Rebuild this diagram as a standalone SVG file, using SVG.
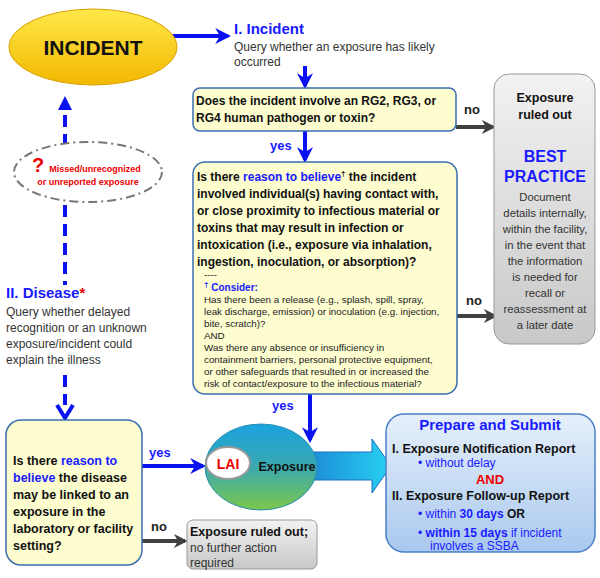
<svg xmlns="http://www.w3.org/2000/svg" width="600" height="578" viewBox="0 0 600 578">
<defs>
<linearGradient id="gy" x1="0" y1="0" x2="0" y2="1"><stop offset="0" stop-color="#ffe84a"/><stop offset="1" stop-color="#f2b800"/></linearGradient>
<linearGradient id="gex" x1="0" y1="0" x2="0" y2="1"><stop offset="0" stop-color="#1aa3e0"/><stop offset="0.5" stop-color="#3aa9b0"/><stop offset="1" stop-color="#7cc74a"/></linearGradient>
<linearGradient id="gbl" x1="0" y1="0" x2="0" y2="1"><stop offset="0" stop-color="#e6f0fb"/><stop offset="1" stop-color="#a9c8ee"/></linearGradient>
<linearGradient id="ggr" x1="0" y1="0" x2="0" y2="1"><stop offset="0" stop-color="#f2f2f2"/><stop offset="1" stop-color="#c8c8c8"/></linearGradient>
<linearGradient id="gar" x1="0" y1="0" x2="1" y2="0"><stop offset="0" stop-color="#1e8fd8"/><stop offset="1" stop-color="#27d2f2"/></linearGradient>
<marker id="ab" viewBox="0 0 10 10" refX="8" refY="5" markerWidth="4" markerHeight="4" orient="auto"><path d="M0,0L10,5L0,10L3,5z" fill="#0a12f0"/></marker>
<marker id="ag" viewBox="0 0 10 10" refX="8" refY="5" markerWidth="3.5" markerHeight="3.5" orient="auto"><path d="M0,0L10,5L0,10L3,5z" fill="#404040"/></marker>
<style>
text{font-family:"Liberation Sans",Arial,sans-serif}
.q{fill:#fdfdcf;stroke:#3a6db0;stroke-width:1.5}
.b{font-weight:bold}
.bl{fill:#1a1aff}
.t13{font-size:12.5px;font-weight:bold;fill:#111}
.t12{font-size:12px;font-weight:bold;fill:#111}
.s{font-size:9.8px;fill:#222}
.g12{font-size:12px;fill:#333}
.g11{font-size:11.3px;fill:#333}
.ab{stroke:#0a12f0;stroke-width:4;fill:none;marker-end:url(#ab)}
.ad{stroke:#0a12f0;stroke-width:4;fill:none;stroke-dasharray:12,7}
.ag{stroke:#404040;stroke-width:4;fill:none;marker-end:url(#ag)}
.lb{font-size:13px;font-weight:bold;fill:#1a1aff}
.lg{font-size:13px;font-weight:bold;fill:#222}
</style>
</defs>
<rect width="600" height="578" fill="#fff"/>
<g id="connectors">
<path class="ab" d="M172,36H228"/>
<path class="ab" d="M305,66V86"/>
<path class="ab" d="M305,131V160"/>
<path class="ag" d="M456,127H493"/>
<path class="ag" d="M456,316H495"/>
<path class="ab" d="M310,394V440"/>
<path class="ad" d="M65,165V110"/>
<path d="M65,96L58,110H72z" fill="#0a12f0"/>
<path class="ad" d="M65,205V285"/>
<path class="ad" d="M65,375V405"/>
<path d="M57,405L65,418L73,405" fill="none" stroke="#0a12f0" stroke-width="4"/>
<path class="ab" d="M142,466H203"/>
<path class="ag" d="M142,541H185"/>
<path d="M314,452H372V439L391,466L372,493V480H314z" fill="url(#gar)" stroke="#1a6fc0" stroke-width="1"/>
<text x="464" y="114" class="lg">no</text>
<text x="270" y="150" class="lb">yes</text>
<text x="466" y="305" class="lg">no</text>
<text x="272" y="410" class="lb">yes</text>
<text x="149" y="457" class="lb">yes</text>
<text x="151" y="531" class="lg">no</text>
</g>
<g id="incident">
<ellipse cx="93" cy="47" rx="84" ry="38" fill="url(#gy)" stroke="#d9a000"/>
<text x="93" y="55" text-anchor="middle" font-size="21" font-weight="bold" fill="#111">INCIDENT</text>
</g>
<g id="incident-label">
<text x="234" y="34" font-size="15" class="b bl">I. Incident</text>
<text x="234" y="51" class="g12">Query whether an exposure has likely</text>
<text x="234" y="66" class="g12">occurred</text>
</g>
<g id="q1">
<rect x="193" y="88" width="263" height="43" rx="7" class="q"/>
<text x="196" y="105" class="t12">Does the incident involve an RG2, RG3, or</text>
<text x="196" y="122" class="t12">RG4 human pathogen or toxin?</text>
</g>
<g id="q2">
<rect x="193" y="162" width="264" height="232" rx="12" class="q"/>
<text x="197" y="181" class="t12">Is there <tspan class="bl">reason to believe</tspan><tspan font-size="8" dy="-5">†</tspan><tspan dy="5"> the incident</tspan></text>
<text x="197" y="198" class="t12">involved individual(s) having contact with,</text>
<text x="197" y="215" class="t12">or close proximity to infectious material or</text>
<text x="197" y="232" class="t12">toxins that may result in infection or</text>
<text x="197" y="249" class="t12">intoxication (i.e., exposure via inhalation,</text>
<text x="197" y="266" class="t12">ingestion, inoculation, or absorption)?</text>
<text x="204" y="278" class="s">----</text>
<text x="204" y="291" font-size="10" class="b bl"><tspan font-size="8" dy="-4">†</tspan><tspan dy="4"> Consider:</tspan></text>
<text x="204" y="303" class="s">Has there been a release (e.g., splash, spill, spray,</text>
<text x="204" y="315" class="s">leak discharge, emission) or inoculation (e.g. injection,</text>
<text x="204" y="327" class="s">bite, scratch)?</text>
<text x="204" y="339" class="s">AND</text>
<text x="204" y="351" class="s">Was there any absence or insufficiency in</text>
<text x="204" y="363" class="s">containment barriers, personal protective equipment,</text>
<text x="204" y="375" class="s">or other safeguards that resulted in or increased the</text>
<text x="204" y="387" class="s">risk of contact/exposure to the infectious material?</text>
</g>
<g id="best-practice">
<rect x="494" y="74" width="101" height="270" rx="15" fill="url(#ggr)" stroke="#999"/>
<text x="545" y="102" text-anchor="middle" class="t13">Exposure</text>
<text x="545" y="119" text-anchor="middle" class="t13">ruled out</text>
<text x="545" y="162" text-anchor="middle" font-size="16" class="b bl">BEST</text>
<text x="545" y="182" text-anchor="middle" font-size="16" class="b bl">PRACTICE</text>
<g class="g11" text-anchor="middle">
<text x="545" y="201">Document</text>
<text x="545" y="217">details internally,</text>
<text x="545" y="233">within the facility,</text>
<text x="545" y="249">in the event that</text>
<text x="545" y="265">the information</text>
<text x="545" y="281">is needed for</text>
<text x="545" y="297">recall or</text>
<text x="545" y="313">reassessment at</text>
<text x="545" y="329">a later date</text>
</g>
</g>
<g id="missed">
<ellipse cx="88" cy="172" rx="74" ry="30" fill="#fff" stroke="#777" stroke-width="2" stroke-dasharray="9,4,2,4"/>
<text x="32" y="172" font-size="20" font-weight="bold" fill="#e00">?</text>
<text x="95" y="172" text-anchor="middle" font-size="9" font-weight="bold" fill="#e00">Missed/unrecognized</text>
<text x="88" y="185" text-anchor="middle" font-size="9" font-weight="bold" fill="#e00">or unreported exposure</text>
</g>
<g id="disease-label">
<text x="6" y="298" font-size="15" class="b bl">II. Disease<tspan fill="#e00">*</tspan></text>
<text x="6" y="316" class="g12">Query whether delayed</text>
<text x="6" y="332" class="g12">recognition or an unknown</text>
<text x="6" y="348" class="g12">exposure/incident  could</text>
<text x="6" y="364" class="g12">explain the illness</text>
</g>
<g id="q3">
<rect x="6" y="420" width="136" height="145" rx="15" class="q"/>
<text x="13" y="465" class="t13">Is there <tspan class="bl">reason to</tspan></text>
<text x="13" y="482" class="t13"><tspan class="bl">believe</tspan> the disease</text>
<text x="13" y="499" class="t13">may be linked to an</text>
<text x="13" y="516" class="t13">exposure in the</text>
<text x="13" y="533" class="t13">laboratory or facility</text>
<text x="13" y="550" class="t13">setting?</text>
</g>
<g id="ruled-out">
<rect x="187" y="520" width="130" height="49" rx="6" fill="url(#ggr)" stroke="#999"/>
<text x="190" y="536" class="t13">Exposure ruled out;</text>
<text x="190" y="552" class="g12">no further action</text>
<text x="190" y="567" class="g12">required</text>
</g>
<g id="exposure">
<ellipse cx="261" cy="467" rx="56" ry="43" fill="url(#gex)" stroke="#2a8fb0"/>
<ellipse cx="228" cy="463" rx="22" ry="16" fill="#fff" stroke="#999" stroke-width="2"/>
<text x="228" y="469" text-anchor="middle" font-size="14" font-weight="bold" fill="#e00">LAI</text>
<text x="287" y="471" text-anchor="middle" class="t13">Exposure</text>
</g>
<g id="submit">
<rect x="386" y="414" width="209" height="138" rx="18" fill="url(#gbl)" stroke="#4a7fc8" stroke-width="1.5"/>
<text x="490" y="430" text-anchor="middle" font-size="15" class="b bl">Prepare and Submit</text>
<text x="392" y="453" class="t13">I. Exposure Notification Report</text>
<text x="418" y="467" font-size="12" class="bl">•  without delay</text>
<text x="490" y="484" text-anchor="middle" font-size="13" font-weight="bold" fill="#e00">AND</text>
<text x="392" y="500" class="t13">II. Exposure Follow-up Report</text>
<text x="418" y="518" font-size="12" class="bl">•  within <tspan font-weight="bold">30 days</tspan> <tspan font-weight="bold" fill="#111">OR</tspan></text>
<text x="418" y="537" font-size="12" class="bl">•  <tspan font-weight="bold">within 15 days</tspan> if incident</text>
<text x="430" y="550" font-size="12" class="bl">involves a SSBA</text>
</g>
</svg>
